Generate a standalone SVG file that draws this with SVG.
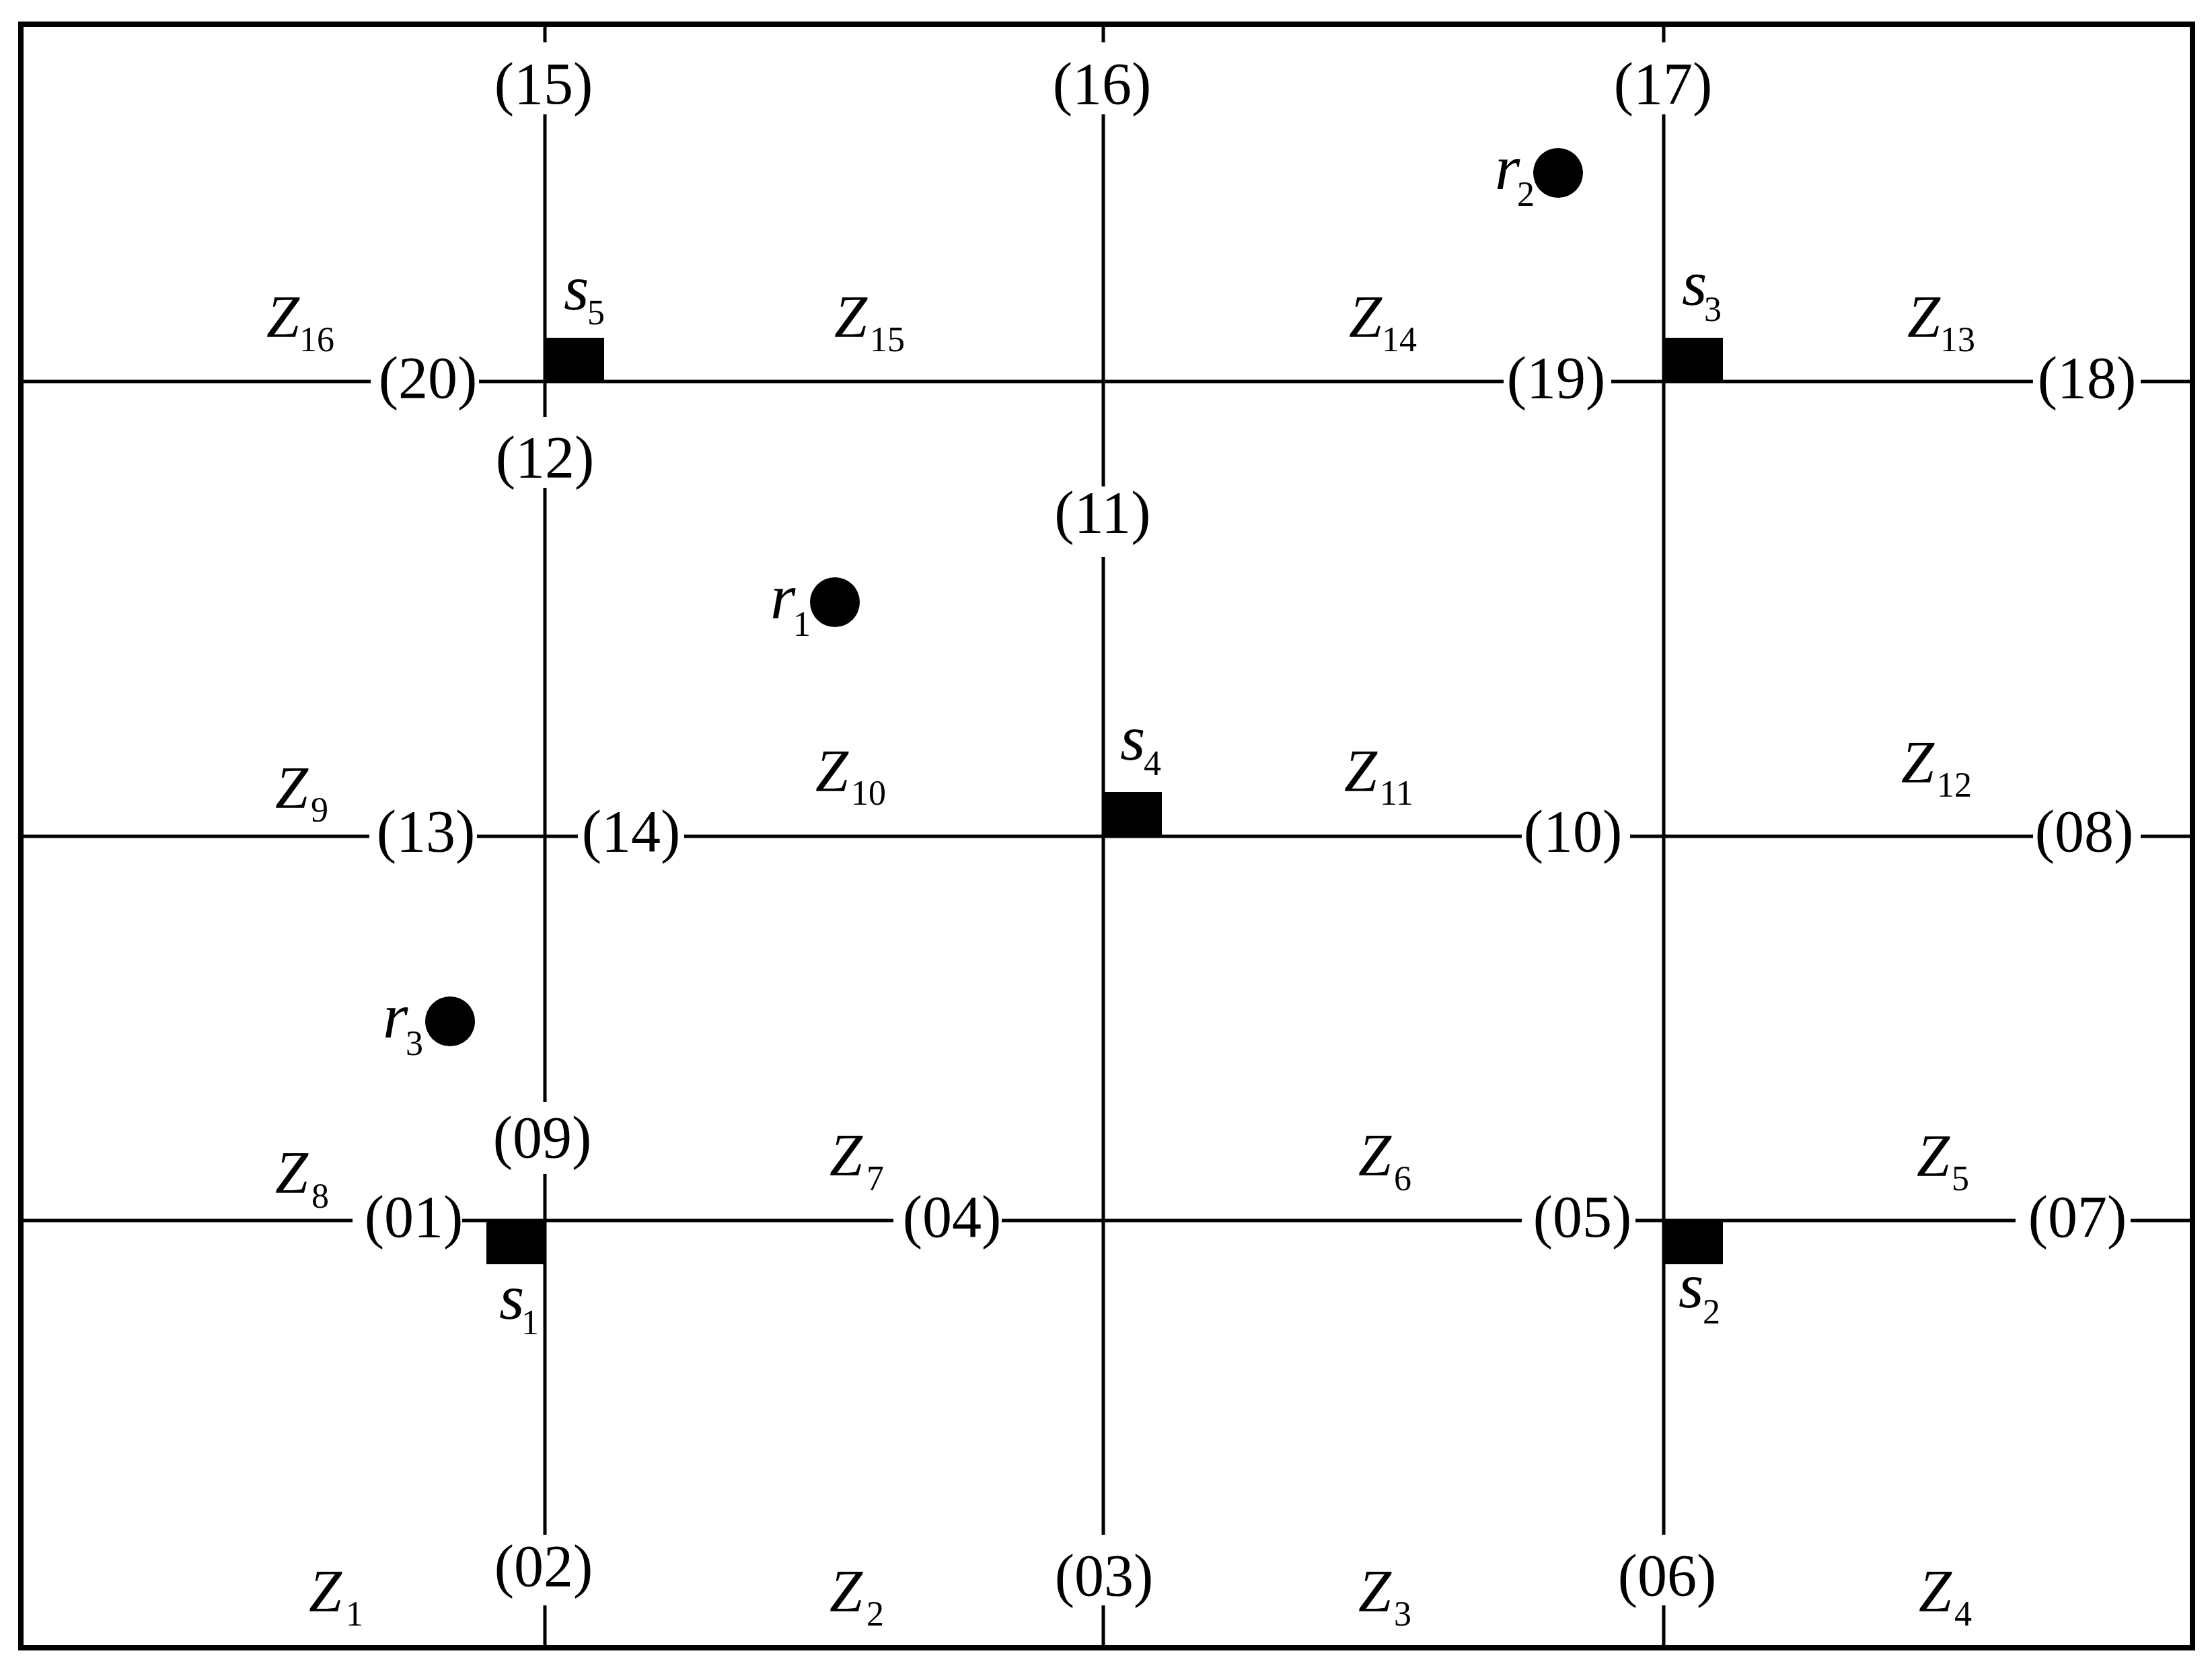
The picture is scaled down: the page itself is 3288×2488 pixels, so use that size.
<svg xmlns="http://www.w3.org/2000/svg" width="3288" height="2488" viewBox="0 0 3288 2488">
<style>
.ln{stroke:#000;stroke-width:5;fill:none;stroke-linecap:butt}
.bd{stroke:#000;stroke-width:8;fill:none}
.num{font-family:"Liberation Serif","Times New Roman",serif;font-size:88px;text-anchor:middle;fill:#000}
.z{font-family:"Liberation Serif","Times New Roman",serif;font-size:88px;font-style:italic;fill:#000}
.sr{font-family:"Liberation Serif","Times New Roman",serif;font-size:96px;font-style:italic;fill:#000}
.sub{font-family:"Liberation Serif","Times New Roman",serif;font-size:52px;font-style:normal;fill:#000}
.sq{fill:#000}
.dot{fill:#000}
</style>
<rect width="3288" height="2488" fill="#fff"/>
<rect id="border" class="bd" x="31" y="36" width="3228" height="2413"/>
<g id="connectors">
  <path class="ln" d="M810 36V63 M810 170V620 M810 725V1638 M810 1745V2281 M810 2386V2449"/>
  <path class="ln" d="M1640 36V63 M1640 170V723 M1640 828V2281 M1640 2386V2449"/>
  <path class="ln" d="M2473 36V63 M2473 170V2281 M2473 2386V2449"/>
  <path class="ln" d="M31 567H551 M712 567H2235 M2395 567H3022 M3182 567H3259"/>
  <path class="ln" d="M31 1243H549 M709 1243H859 M1017 1243H2262 M2423 1243H3022 M3182 1243H3259"/>
  <path class="ln" d="M31 1814H524 M687 1814H1328 M1489 1814H2262 M2431 1814H2996 M3167 1814H3259"/>
</g>
<g id="junctions">
  <text id="n15" class="num" x="808" y="154">(15)</text>
  <text id="n16" class="num" x="1638" y="154">(16)</text>
  <text id="n17" class="num" x="2472" y="154">(17)</text>
  <text id="n20" class="num" x="636" y="591">(20)</text>
  <text id="n19" class="num" x="2313" y="591">(19)</text>
  <text id="n18" class="num" x="3102" y="591">(18)</text>
  <text id="n12" class="num" x="810" y="709">(12)</text>
  <text id="n11" class="num" x="1639" y="791">(11)</text>
  <text id="n13" class="num" x="633" y="1265">(13)</text>
  <text id="n14" class="num" x="938" y="1265">(14)</text>
  <text id="n10" class="num" x="2338" y="1265">(10)</text>
  <text id="n08" class="num" x="3098" y="1265">(08)</text>
  <text id="n09" class="num" x="806" y="1720">(09)</text>
  <text id="n01" class="num" x="615" y="1838">(01)</text>
  <text id="n04" class="num" x="1415" y="1838">(04)</text>
  <text id="n05" class="num" x="2352" y="1838">(05)</text>
  <text id="n07" class="num" x="3088" y="1838">(07)</text>
  <text id="n02" class="num" x="808" y="2357">(02)</text>
  <text id="n03" class="num" x="1641" y="2371">(03)</text>
  <text id="n06" class="num" x="2478" y="2371">(06)</text>
</g>
<g id="zones">
  <text id="Z16" class="z" x="396" y="500">Z<tspan class="sub" x="445" y="522">16</tspan></text>
  <text id="Z15" class="z" x="1240" y="500">Z<tspan class="sub" x="1293" y="522">15</tspan></text>
  <text id="Z14" class="z" x="2005" y="500">Z<tspan class="sub" x="2054" y="522">14</tspan></text>
  <text id="Z13" class="z" x="2835" y="500">Z<tspan class="sub" x="2884" y="522">13</tspan></text>
  <text id="Z9" class="z" x="409" y="1200">Z<tspan class="sub" x="462" y="1221">9</tspan></text>
  <text id="Z10" class="z" x="1212" y="1175">Z<tspan class="sub" x="1265" y="1196">10</tspan></text>
  <text id="Z11" class="z" x="1998" y="1175">Z<tspan class="sub" x="2051" y="1196">11</tspan></text>
  <text id="Z12" class="z" x="2826" y="1162">Z<tspan class="sub" x="2879" y="1184">12</tspan></text>
  <text id="Z8" class="z" x="409" y="1772">Z<tspan class="sub" x="463" y="1795">8</tspan></text>
  <text id="Z7" class="z" x="1233" y="1746">Z<tspan class="sub" x="1288" y="1769">7</tspan></text>
  <text id="Z6" class="z" x="2019" y="1746">Z<tspan class="sub" x="2072" y="1769">6</tspan></text>
  <text id="Z5" class="z" x="2849" y="1747">Z<tspan class="sub" x="2901" y="1769">5</tspan></text>
  <text id="Z1" class="z" x="459" y="2394">Z<tspan class="sub" x="514" y="2416">1</tspan></text>
  <text id="Z2" class="z" x="1233" y="2394">Z<tspan class="sub" x="1288" y="2416">2</tspan></text>
  <text id="Z3" class="z" x="2019" y="2394">Z<tspan class="sub" x="2072" y="2416">3</tspan></text>
  <text id="Z4" class="z" x="2852" y="2394">Z<tspan class="sub" x="2905" y="2416">4</tspan></text>
</g>
<g id="s5"><rect class="sq" x="810" y="502" width="88" height="66"/><text class="sr" x="838" y="460">s<tspan class="sub" x="873" y="482">5</tspan></text></g>
<g id="s3"><rect class="sq" x="2473" y="502" width="88" height="66"/><text class="sr" x="2500" y="453">s<tspan class="sub" x="2533" y="477">3</tspan></text></g>
<g id="s4"><rect class="sq" x="1640" y="1177" width="87" height="66"/><text class="sr" x="1665" y="1129">s<tspan class="sub" x="1700" y="1152">4</tspan></text></g>
<g id="s1"><rect class="sq" x="723" y="1814" width="89" height="65"/><text class="sr" x="742" y="1960">s<tspan class="sub" x="775" y="1983">1</tspan></text></g>
<g id="s2"><rect class="sq" x="2473" y="1814" width="88" height="65"/><text class="sr" x="2495" y="1943">s<tspan class="sub" x="2531" y="1967">2</tspan></text></g>
<g id="r1"><circle class="dot" cx="1241" cy="895" r="37"/><text class="sr" x="1145" y="919">r<tspan class="sub" x="1179" y="945">1</tspan></text></g>
<g id="r2"><circle class="dot" cx="2316" cy="257" r="37"/><text class="sr" x="2222" y="281">r<tspan class="sub" x="2255" y="306">2</tspan></text></g>
<g id="r3"><circle class="dot" cx="669" cy="1518" r="37"/><text class="sr" x="569" y="1542">r<tspan class="sub" x="603" y="1568">3</tspan></text></g>
</svg>
